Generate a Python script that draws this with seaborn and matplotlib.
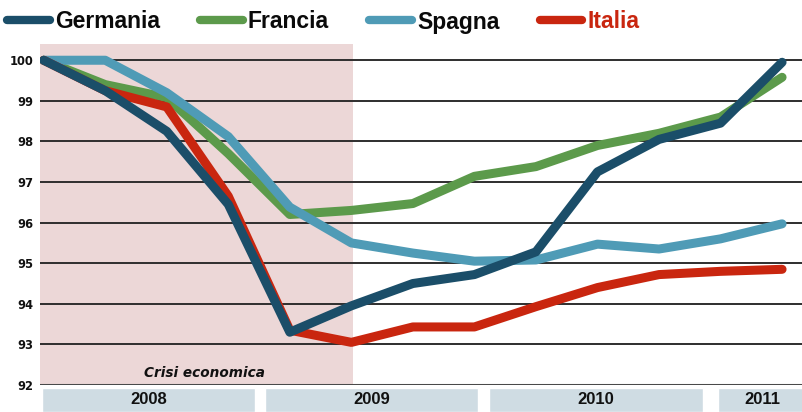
import numpy as np
import pandas as pd
import matplotlib.pyplot as plt
import seaborn as sns

## Dati: PIL trimestrale (indice, 1° trim. 2008 = 100)
trimestri = np.arange(13)
germania = [100, 99.25, 98.25, 96.45, 93.3, 93.95, 94.5, 94.72, 95.28, 97.25, 98.05, 98.45, 99.95]
francia = [100, 99.4, 99.08, 97.7, 96.2, 96.3, 96.47, 97.14, 97.38, 97.9, 98.2, 98.6, 99.58]
spagna = [100, 100, 99.2, 98.12, 96.38, 95.5, 95.25, 95.05, 95.08, 95.47, 95.35, 95.6, 95.97]
italia = [100, 99.25, 98.85, 96.65, 93.35, 93.05, 93.43, 93.43, 93.93, 94.4, 94.72, 94.8, 94.85]
paesi = ['Germania', 'Francia', 'Spagna', 'Italia']
anni = ['2008', '2009', '2010', '2011']
y_ticks = [92, 93, 94, 95, 96, 97, 98, 99, 100]

colori = {'Germania': '#1b4e69', 'Francia': '#5c9a4b', 'Spagna': '#4f9bb6', 'Italia': '#c9260f'}

df = pd.DataFrame({'trimestre': trimestri, 'Germania': germania, 'Francia': francia,
                   'Spagna': spagna, 'Italia': italia})
df = df.melt(id_vars='trimestre', var_name='paese', value_name='indice')

sns.set_style('white')
fig = plt.figure(figsize=(8.03, 4.12), dpi=100)
ax = fig.add_axes([40 / 803, 27 / 412, 763 / 803, 341 / 412])

### crisi economica (fino al 2° trim. 2009)
ax.axvspan(-0.06, 5.03, color='#ecd7d7', lw=0, zorder=0)

sns.lineplot(data=df, x='trimestre', y='indice', hue='paese', hue_order=paesi,
             palette=colori, linewidth=6.5, sort=False, ax=ax, zorder=3)
for l in ax.lines:
    l.set_solid_joinstyle('round')
    l.set_solid_capstyle('round')
# la Germania sta sopra le altre linee
ax.lines[0].set_zorder(4)

ax.set_xlim(-0.06, 12.34)
ax.set_ylim(92, 100.4)
ax.set_yticks(y_ticks)
ax.set_yticklabels([str(v) for v in y_ticks], fontweight='bold', fontsize=8.3,
                   family='DejaVu Sans', color='#111111')
ax.set_xticks([])
ax.set_xlabel('')
ax.set_ylabel('')
ax.tick_params(axis='y', length=0, pad=5)
ax.yaxis.grid(True, color='#2e2e2e', linewidth=1.4, zorder=1)
ax.set_axisbelow(True)
for s in ax.spines.values():
    s.set_visible(False)
ax.axhline(92, color='#4a4a4a', linewidth=2.2, zorder=2)

ax.text(2.62, 92.12, 'Crisi economica', fontsize=9.8, fontweight='bold', style='italic',
        ha='center', va='bottom', color='#111111')

### legenda
handles, labels = ax.get_legend_handles_labels()
ax.get_legend().remove()
leg = fig.legend(handles, labels, loc='center left', bbox_to_anchor=(7 / 803, 1 - 22 / 412),
                 ncol=4, frameon=False, borderpad=0, borderaxespad=0,
                 handlelength=1.87, handletextpad=0.22, columnspacing=1.75,
                 prop={'family': 'Liberation Sans', 'weight': 'bold', 'size': 16.5})
for h in leg.legend_handles:
    h.set_linewidth(6)
    h.set_solid_capstyle('round')
for t in leg.get_texts():
    t.set_color(colori['Italia'] if t.get_text() == 'Italia' else '#0a0a0a')

### fascia anni
bx = fig.add_axes([40 / 803, 0, 763 / 803, 24 / 412])
inizio = [-0.02, 3.6, 7.24, 10.96]
fine = [3.44, 7.06, 10.71, 12.4]
bx.barh([0] * 4, np.subtract(fine, inizio), left=inizio, height=1, color='#cfdce3')
for a, i0, i1 in zip(anni, inizio, fine):
    bx.text((i0 + i1) / 2, 0, a, ha='center', va='center', fontsize=12,
            fontweight='bold', family='Liberation Sans', color='#111111')
bx.set_xlim(-0.06, 12.34)
bx.set_ylim(-0.5, 0.5)
bx.axis('off')

fig.savefig('out.png', dpi=100)
